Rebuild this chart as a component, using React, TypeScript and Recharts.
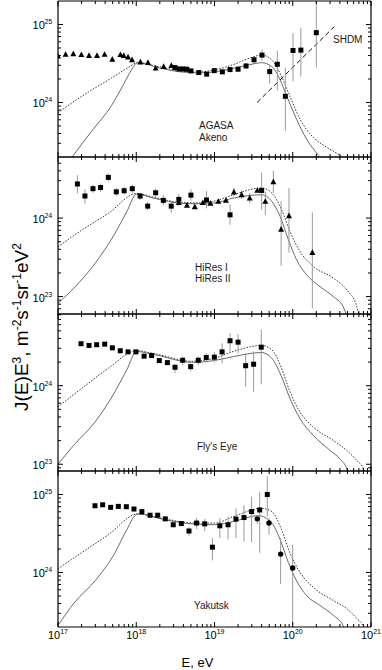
import React from "react";
import { ComposedChart, Line, Scatter, XAxis, YAxis, ErrorBar } from "recharts";

// ---------- data (E in eV, J(E)E^3 in m^-2 s^-1 sr^-1 eV^2) ----------
// each point: [E, J, lowBound?, highBound?]
const E_DOMAIN: [number, number] = [1e17, 1e21];

// Panel 1: AGASA / Akeno
const akenoTriangles = [
  [1.0e17, 3.94e24], [1.25e17, 4.13e24], [1.57e17, 4.2e24], [1.99e17, 4.1e24],
  [2.49e17, 4.0e24], [3.15e17, 4.0e24], [3.94e17, 4.13e24], [4.94e17, 3.57e24],
  [6.27e17, 4.1e24], [6.92e17, 4.0e24], [7.85e17, 3.82e24], [8.83e17, 3.53e24],
  [1.13e18, 3.3e24], [1.41e18, 3.24e24], [1.77e18, 2.75e24], [2.24e18, 2.88e24],
  [2.81e18, 2.97e24],
];
const agasaSquares = [
  [3.13e18, 2.8e24], [3.52e18, 2.69e24, 2.5e24, 2.9e24], [3.95e18, 2.69e24], [4.42e18, 2.67e24],
  [5.0e18, 2.54e24], [6.3e18, 2.42e24], [7.94e18, 2.31e24], [9.93e18, 2.56e24],
  [1.26e19, 2.47e24], [1.58e19, 2.64e24, 2.45e24, 2.85e24], [2.0e19, 2.67e24, 2.45e24, 2.9e24],
  [2.53e19, 2.94e24, 2.7e24, 3.2e24], [3.2e19, 3.53e24, 3.2e24, 3.8e24],
  [4.05e19, 4.05e24, 3.43e24, 4.79e24], [5.07e19, 2.49e24, 1.74e24, 3.02e24],
  [6.35e19, 3.09e24, 1.43e24, 4.59e24], [8.04e19, 1.2e24, 4.34e23, 2.8e24],
  [1.007e20, 4.64e24, 1.86e24, 7.76e24], [1.27e20, 4.69e24, 2.15e24, 9.08e24],
  [2.0e20, 7.85e24, 2.8e24, 2.0e25],
];
const shdmLine = [[3.5e19, 1.0e24], [3.4e20, 9.4e24]];
const solid1 = [
  [1.12e17, 1.3e23], [1.57e17, 2.1e23], [2.7e17, 4.3e23], [4.85e17, 9.2e23], [6.84e17, 1.69e24],
  [8.7e17, 2.62e24], [1.04e18, 3.24e24], [2.0e18, 2.77e24], [3.63e18, 2.47e24], [6.5e18, 2.4e24],
  [1.01e19, 2.47e24], [1.83e19, 2.77e24], [3.3e19, 3.16e24], [4.0e19, 3.24e24], [5.4e19, 2.88e24],
  [6.9e19, 1.95e24], [8.4e19, 1.2e24], [1.12e20, 6.1e23], [1.5e20, 3.4e23], [2.12e20, 2.1e23],
  [3.2e20, 1.2e23],
];
const dotted1 = [
  [1.0e17, 7.4e23], [2.44e17, 1.36e24], [4.85e17, 2.06e24], [7.9e17, 2.8e24], [1.04e18, 3.24e24],
  [2.0e18, 2.85e24], [3.63e18, 2.55e24], [6.5e18, 2.47e24], [1.01e19, 2.62e24], [1.83e19, 3.12e24],
  [2.8e19, 3.7e24], [4.0e19, 4.05e24], [5.4e19, 3.5e24], [7.2e19, 2.15e24], [9.2e19, 1.2e24],
  [1.24e20, 6.1e23], [1.83e20, 3.57e23], [2.66e20, 2.7e23], [4.0e20, 2.1e23], [7.2e20, 1.2e23],
];

// Panel 2: HiRes I / HiRes II
const hiresSquares = [
  [1.77e17, 2.72e24, 2.06e24, 3.53e24], [2.21e17, 1.91e24, 1.53e24, 2.34e24],
  [2.8e17, 2.37e24, 2.1e24, 2.64e24], [3.5e17, 2.45e24, 2.18e24, 2.76e24],
  [4.4e17, 3.3e24, 2.93e24, 3.71e24], [5.56e17, 2.16e24, 1.91e24, 2.42e24],
  [7.0e17, 2.23e24, 1.98e24, 2.51e24], [8.9e17, 2.37e24, 2.1e24, 2.66e24],
  [1.12e18, 1.91e24, 1.7e24, 2.1e24], [1.4e18, 1.42e24, 1.26e24, 1.61e24],
  [1.77e18, 2.1e24, 1.87e24, 2.39e24], [2.22e18, 1.68e24, 1.45e24, 1.96e24],
  [2.8e18, 1.42e24, 1.17e24, 1.66e24], [3.5e18, 1.73e24, 1.45e24, 2.02e24],
  [5.0e18, 1.96e24, 1.66e24, 2.32e24], [7.9e18, 1.7e24, 1.33e24, 2.21e24],
  [1.58e19, 1.1e24, 8.2e23, 1.48e24], [4.0e19, 2.25e24, 1.28e24, 3.8e24],
];
const hiresTriangles = [
  [3.5e18, 1.57e24], [4.45e18, 1.45e24], [5.6e18, 1.39e24], [7.1e18, 1.57e24],
  [8.85e18, 1.54e24], [1.12e19, 1.63e24], [1.4e19, 1.68e24], [1.77e19, 2.15e24, 1.89e24, 2.42e24],
  [2.22e19, 1.98e24, 1.75e24, 2.25e24], [2.82e19, 1.8e24, 1.55e24, 2.08e24], [3.52e19, 2.25e24],
  [4.46e19, 1.63e24, 1.1e24, 2.18e24], [5.65e19, 2.9e24, 2.08e24, 4.0e24],
  [7.1e19, 7.2e23, 2.47e23, 1.63e24], [8.95e19, 1.07e24, 3.64e23, 2.42e24],
  [1.78e20, 3.64e23, 7.1e22, 1.18e24],
];
const solid2 = [
  [1.0e17, 8.2e22], [1.65e17, 1.33e23], [2.97e17, 2.64e23], [5.35e17, 6.4e23], [7.55e17, 1.2e24],
  [1.01e18, 2.02e24], [1.74e18, 1.78e24], [3.8e18, 1.54e24], [6.5e18, 1.52e24], [1.01e19, 1.56e24],
  [1.74e19, 1.8e24], [4.0e19, 1.98e24], [5.4e19, 1.63e24], [6.9e19, 1.05e24], [8.8e19, 5.3e23],
  [1.12e20, 2.94e23], [1.5e20, 1.9e23], [2.23e20, 1.34e23], [3.3e20, 1.0e23], [4.4e20, 7.45e22],
  [5.5e20, 4.0e22],
];
const dotted2 = [
  [1.0e17, 4.3e23], [2.0e17, 7.0e23], [4.4e17, 1.15e24], [1.01e18, 2.06e24], [1.74e18, 1.82e24],
  [3.8e18, 1.58e24], [6.5e18, 1.56e24], [1.01e19, 1.65e24], [1.74e19, 1.98e24], [4.0e19, 2.42e24],
  [5.4e19, 2.08e24], [7.2e19, 1.28e24], [9.2e19, 6.75e23], [1.24e20, 3.75e23], [1.83e20, 2.42e23],
  [3.3e20, 1.72e23], [4.9e20, 1.22e23], [6.6e20, 7.45e22], [7.5e20, 4.0e22],
];

// Panel 3: Fly's Eye
const flysEyeSquares = [
  [1.97e17, 3.43e24], [2.49e17, 3.26e24], [3.12e17, 3.33e24], [3.95e17, 3.39e24],
  [4.95e17, 3.04e24], [6.25e17, 2.79e24], [7.85e17, 2.7e24], [9.9e17, 2.7e24],
  [1.26e18, 2.38e24], [1.57e18, 2.43e24], [1.97e18, 2.09e24], [2.5e18, 1.97e24, 1.85e24, 2.1e24],
  [3.13e18, 1.72e24, 1.44e24, 1.88e24], [3.92e18, 2.11e24, 1.84e24, 2.35e24],
  [4.96e18, 1.75e24, 1.54e24, 1.93e24], [6.2e18, 2.11e24, 1.84e24, 2.35e24],
  [7.85e18, 2.29e24, 1.99e24, 2.6e24], [9.95e18, 2.31e24, 1.97e24, 2.67e24],
  [1.25e19, 2.7e24, 1.93e24, 3.48e24], [1.58e19, 3.74e24, 2.67e24, 4.69e24],
  [2.0e19, 3.59e24, 2.59e24, 4.55e24], [2.5e19, 1.8e24, 9.7e23, 2.59e24],
  [3.16e19, 1.88e24, 8.4e23, 2.73e24], [3.96e19, 3.1e24, 1.04e24, 5.18e24],
];
const solid3 = [
  [1.0e17, 1.0e23], [1.65e17, 1.82e23], [2.97e17, 3.45e23], [5.35e17, 8.4e23], [7.55e17, 1.59e24],
  [1.01e18, 2.73e24], [1.74e18, 2.48e24], [5.1e18, 1.99e24], [1.01e19, 2.1e24], [1.74e19, 2.35e24],
  [4.0e19, 2.65e24], [5.4e19, 2.24e24], [7.2e19, 1.3e24], [9.2e19, 6.9e23], [1.24e20, 3.8e23],
  [1.83e20, 2.33e23], [3.0e20, 1.5e23], [4.0e20, 1.17e23], [4.9e20, 8.7e22], [5.5e20, 5.0e22],
];
const dotted3 = [
  [1.0e17, 5.4e23], [2.0e17, 9.2e23], [4.4e17, 1.67e24], [1.01e18, 2.79e24], [1.74e18, 2.55e24],
  [5.1e18, 2.05e24], [1.01e19, 2.25e24], [1.74e19, 2.73e24], [4.0e19, 3.26e24], [5.4e19, 2.87e24],
  [7.2e19, 1.67e24], [9.2e19, 8.4e23], [1.24e20, 4.6e23], [1.83e20, 2.98e23], [3.3e20, 2.01e23],
  [4.9e20, 1.5e23], [6.6e20, 1.11e23], [8.0e20, 8.7e22], [9.0e20, 5.0e22],
];

// Panel 4: Yakutsk
const yakutskSquares = [
  [2.97e17, 7.17e24], [3.72e17, 7.38e24], [4.71e17, 6.84e24], [5.9e17, 7.04e24],
  [7.47e17, 6.97e24], [9.35e17, 6.51e24], [1.18e18, 6.03e24], [1.5e18, 5.42e24],
  [1.88e18, 5.42e24], [2.35e18, 4.87e24], [2.97e18, 4.09e24], [3.77e18, 4.24e24],
  [4.72e18, 3.4e24, 2.96e24, 3.82e24], [5.9e18, 4.3e24, 3.6e24, 4.97e24],
  [7.5e18, 4.2e24, 3.37e24, 4.83e24], [9.4e18, 2.11e24, 1.43e24, 2.77e24],
  [1.17e19, 3.97e24, 2.77e24, 4.97e24], [1.49e19, 4.09e24, 2.64e24, 5.21e24],
  [1.88e19, 4.83e24, 2.77e24, 6.65e24], [2.38e19, 5.06e24, 2.51e24, 7.33e24],
  [2.98e19, 6.03e24, 2.44e24, 9.33e24], [3.78e19, 6.33e24, 1.79e24, 1.08e25],
  [4.73e19, 1.0e25, 5.2e24, 1.71e25],
];
const yakutskCircles = [
  [3.52e19, 4.87e24, 4.2e24, 5.47e24], [4.97e19, 4.3e24, 3.05e24, 4.97e24],
  [7.0e19, 1.72e24, 7.1e23, 2.77e24], [9.98e19, 1.14e24, 2.0e23, 2.28e24],
];
const solid4 = [
  [1.0e17, 2.1e23], [1.65e17, 4.2e23], [2.97e17, 7.8e23], [5.35e17, 1.79e24], [7.55e17, 3.53e24],
  [1.04e18, 5.63e24], [2.33e18, 4.73e24], [5.6e18, 4.17e24], [1.01e19, 4.1e24], [1.74e19, 4.5e24],
  [3.63e19, 5.36e24], [5.4e19, 4.3e24], [6.9e19, 2.64e24], [8.8e19, 1.34e24], [1.12e20, 7.8e23],
  [1.5e20, 5.06e23], [2.23e20, 3.78e23], [3.3e20, 2.82e23], [4.4e20, 2.1e23], [5.5e20, 1.2e23],
];
const dotted4 = [
  [1.0e17, 1.12e24], [2.0e17, 1.79e24], [4.4e17, 3.05e24], [1.04e18, 5.63e24], [2.33e18, 4.85e24],
  [5.6e18, 4.3e24], [1.01e19, 4.3e24], [1.74e19, 5.2e24], [4.0e19, 6.65e24], [5.4e19, 6.03e24],
  [7.2e19, 3.53e24], [9.2e19, 1.79e24], [1.24e20, 1.0e24], [1.83e20, 6.46e23], [3.3e20, 4.37e23],
  [4.9e20, 3.43e23], [6.6e20, 2.56e23], [8.0e20, 2.0e23], [9.0e20, 1.2e23],
];

// ---------- helpers ----------
const toRows = (pts: number[][]) =>
  pts.map(([x, y, lo, hi]) => ({
    x,
    y,
    err: [lo === undefined ? 0 : y - lo, hi === undefined ? 0 : hi - y],
  }));
const toLine = (pts: number[][]) => pts.map(([x, y]) => ({ x, y }));

const logTicks = (lo: number, hi: number, inclusive: boolean) => {
  const t: number[] = [];
  for (let e = Math.floor(Math.log10(lo)); e <= Math.ceil(Math.log10(hi)); e++) {
    for (let m = 1; m <= 9; m++) {
      const v = m * Math.pow(10, e);
      const ok = inclusive ? v >= lo * 0.9999 && v <= hi * 1.0001 : v > lo * 1.0001 && v < hi * 0.9999;
      if (ok) t.push(v);
    }
  }
  return t;
};
const isMajor = (v: number) => Math.abs(Math.log10(v) - Math.round(Math.log10(v))) < 1e-6;
const expOf = (v: number) => String(Math.round(Math.log10(v)));

const FONT = "'Liberation Sans', Arial, Helvetica, sans-serif";
const AXIS = { stroke: "#000", strokeWidth: 1.2 };

const Square = (p: any) =>
  p.cx == null ? null : <rect x={p.cx - 2.5} y={p.cy - 2.5} width={5} height={5} fill="#000" />;
const Triangle = (p: any) =>
  p.cx == null ? null : (
    <polygon points={`${p.cx},${p.cy - 3.3} ${p.cx - 3},${p.cy + 2.4} ${p.cx + 3},${p.cy + 2.4}`} fill="#000" />
  );
const Dot = (p: any) => (p.cx == null ? null : <circle cx={p.cx} cy={p.cy} r={2.7} fill="#000" />);

const makeBottomTick = (labels: boolean) => (props: any) => {
  const { x, y, payload } = props;
  const major = isMajor(payload.value);
  const len = major ? 5 : 3;
  return (
    <g>
      <line x1={x} y1={y} x2={x} y2={y - len} stroke="#000" strokeWidth={1} />
      {labels && major && (
        <text x={x} y={y + 11.5} textAnchor="middle" fontSize={11} fontFamily={FONT} fill="#000">
          10<tspan dy={-5} fontSize={7}>{expOf(payload.value)}</tspan>
        </text>
      )}
    </g>
  );
};
const TopTick = (props: any) => {
  const { x, y, payload } = props;
  const len = isMajor(payload.value) ? 5 : 3;
  return <line x1={x} y1={y} x2={x} y2={y + len} stroke="#000" strokeWidth={1} />;
};
const LeftTick = (props: any) => {
  const { x, y, payload } = props;
  const major = isMajor(payload.value);
  const len = major ? 5 : 3;
  return (
    <g>
      <line x1={x} y1={y} x2={x + len} y2={y} stroke="#000" strokeWidth={1} />
      {major && (
        <text x={x - 6} y={y + 5} textAnchor="end" fontSize={11} fontFamily={FONT} fill="#000">
          10<tspan dy={-5} fontSize={6.5}>{expOf(payload.value)}</tspan>
        </text>
      )}
    </g>
  );
};
const RightTick = (props: any) => {
  const { x, y, payload } = props;
  const len = isMajor(payload.value) ? 5 : 3;
  return <line x1={x} y1={y} x2={x - len} y2={y} stroke="#000" strokeWidth={1} />;
};

type Series = { data: number[][]; kind: "square" | "triangle" | "circle" };
type Panel = {
  top: number;
  bottom: number;
  yDomain: [number, number];
  solid: number[][];
  dotted: number[][];
  extra?: number[][];
  points: Series[];
};

const PANELS: Panel[] = [
  {
    top: 1, bottom: 157, yDomain: [2e23, 2e25], solid: solid1, dotted: dotted1, extra: shdmLine,
    points: [{ data: akenoTriangles, kind: "triangle" }, { data: agasaSquares, kind: "square" }],
  },
  {
    top: 157, bottom: 314, yDomain: [6e22, 6e24], solid: solid2, dotted: dotted2,
    points: [{ data: hiresSquares, kind: "square" }, { data: hiresTriangles, kind: "triangle" }],
  },
  {
    top: 314, bottom: 471, yDomain: [8.2e22, 8.2e24], solid: solid3, dotted: dotted3,
    points: [{ data: flysEyeSquares, kind: "square" }],
  },
  {
    top: 471, bottom: 627, yDomain: [2e23, 2e25], solid: solid4, dotted: dotted4,
    points: [{ data: yakutskSquares, kind: "square" }, { data: yakutskCircles, kind: "circle" }],
  },
];

const W = 382;
const H = 670;
const PLOT_LEFT = 58;
const PLOT_RIGHT = 371;
const AX = 1; // thickness reserved for each axis band
const xTicks = logTicks(E_DOMAIN[0], E_DOMAIN[1], true);

function PanelChart({ p, last }: { p: Panel; last: boolean }) {
  const yTicks = logTicks(p.yDomain[0], p.yDomain[1], false);
  return (
    <ComposedChart
      width={W}
      height={H}
      margin={{ top: p.top - AX, bottom: H - p.bottom - AX, left: PLOT_LEFT - AX, right: W - PLOT_RIGHT - AX }}
    >
      <XAxis
        dataKey="x" type="number" scale="log" domain={E_DOMAIN} allowDataOverflow ticks={xTicks}
        interval={0} height={AX} tickSize={0} tickMargin={0} tickLine={false} axisLine={AXIS}
        tick={makeBottomTick(last)}
      />
      <XAxis
        xAxisId="top" orientation="top" dataKey="x" type="number" scale="log" domain={E_DOMAIN}
        allowDataOverflow ticks={xTicks} interval={0} height={AX} tickSize={0} tickMargin={0}
        tickLine={false} axisLine={AXIS} tick={TopTick}
      />
      <YAxis
        dataKey="y" type="number" scale="log" domain={p.yDomain} allowDataOverflow ticks={yTicks}
        interval={0} width={AX} tickSize={0} tickMargin={0} tickLine={false} axisLine={AXIS} tick={LeftTick}
      />
      <YAxis
        yAxisId="right" orientation="right" dataKey="y" type="number" scale="log" domain={p.yDomain}
        allowDataOverflow ticks={yTicks} interval={0} width={AX} tickSize={0} tickMargin={0}
        tickLine={false} axisLine={AXIS} tick={RightTick}
      />
      <Line
        data={toLine(p.solid)} dataKey="y" type="monotone" stroke="#6a6a6a" strokeWidth={1}
        dot={false} activeDot={false} isAnimationActive={false}
      />
      <Line
        data={toLine(p.dotted)} dataKey="y" type="monotone" stroke="#333" strokeWidth={1}
        strokeDasharray="1.5 1.5" dot={false} activeDot={false} isAnimationActive={false}
      />
      {p.extra && (
        <Line
          data={toLine(p.extra)} dataKey="y" type="linear" stroke="#111" strokeWidth={1}
          strokeDasharray="5 3" dot={false} activeDot={false} isAnimationActive={false}
        />
      )}
      {p.points.map((s, i) => (
        <Scatter
          key={i}
          data={toRows(s.data)}
          isAnimationActive={false}
          shape={s.kind === "square" ? Square : s.kind === "triangle" ? Triangle : Dot}
        >
          <ErrorBar dataKey="err" direction="y" width={0} stroke="#9a9a9a" strokeWidth={1} />
        </Scatter>
      ))}
    </ComposedChart>
  );
}

export default function App() {
  return (
    <div style={{ position: "absolute", left: 0, top: 0, width: W, height: H, background: "#fff", overflow: "hidden" }}>
      {PANELS.map((p, i) => (
        <div key={i} style={{ position: "absolute", left: 0, top: 0 }}>
          <PanelChart p={p} last={i === PANELS.length - 1} />
        </div>
      ))}
      <svg
        width={W}
        height={H}
        style={{ position: "absolute", left: 0, top: 0, pointerEvents: "none" }}
        fontFamily={FONT}
      >
        <g fill="#1a1a1a" fontSize={10}>
          <text x={199} y={129}>AGASA</text>
          <text x={199} y={140.5}>Akeno</text>
          <text x={333} y={43}>SHDM</text>
          <text x={195} y={271}>HiRes I</text>
          <text x={195} y={281.5}>HiRes II</text>
          <text x={197} y={449.5}>Fly's Eye</text>
          <text x={194} y={608.5}>Yakutsk</text>
        </g>
        <text x={197.5} y={667} textAnchor="middle" fontSize={13} fill="#000">E, eV</text>
        <text transform="translate(28,327) rotate(-90)" textAnchor="middle" fontSize={19} fill="#000">
          J(E)E<tspan dy={-7} fontSize={12}>3</tspan>
          <tspan dy={7}>, m</tspan>
          <tspan dy={-7} fontSize={12}>-2</tspan>
          <tspan dy={7}>s</tspan>
          <tspan dy={-7} fontSize={12}>-1</tspan>
          <tspan dy={7}>sr</tspan>
          <tspan dy={-7} fontSize={12}>-1</tspan>
          <tspan dy={7}>eV</tspan>
          <tspan dy={-7} fontSize={12}>2</tspan>
        </text>
      </svg>
    </div>
  );
}
